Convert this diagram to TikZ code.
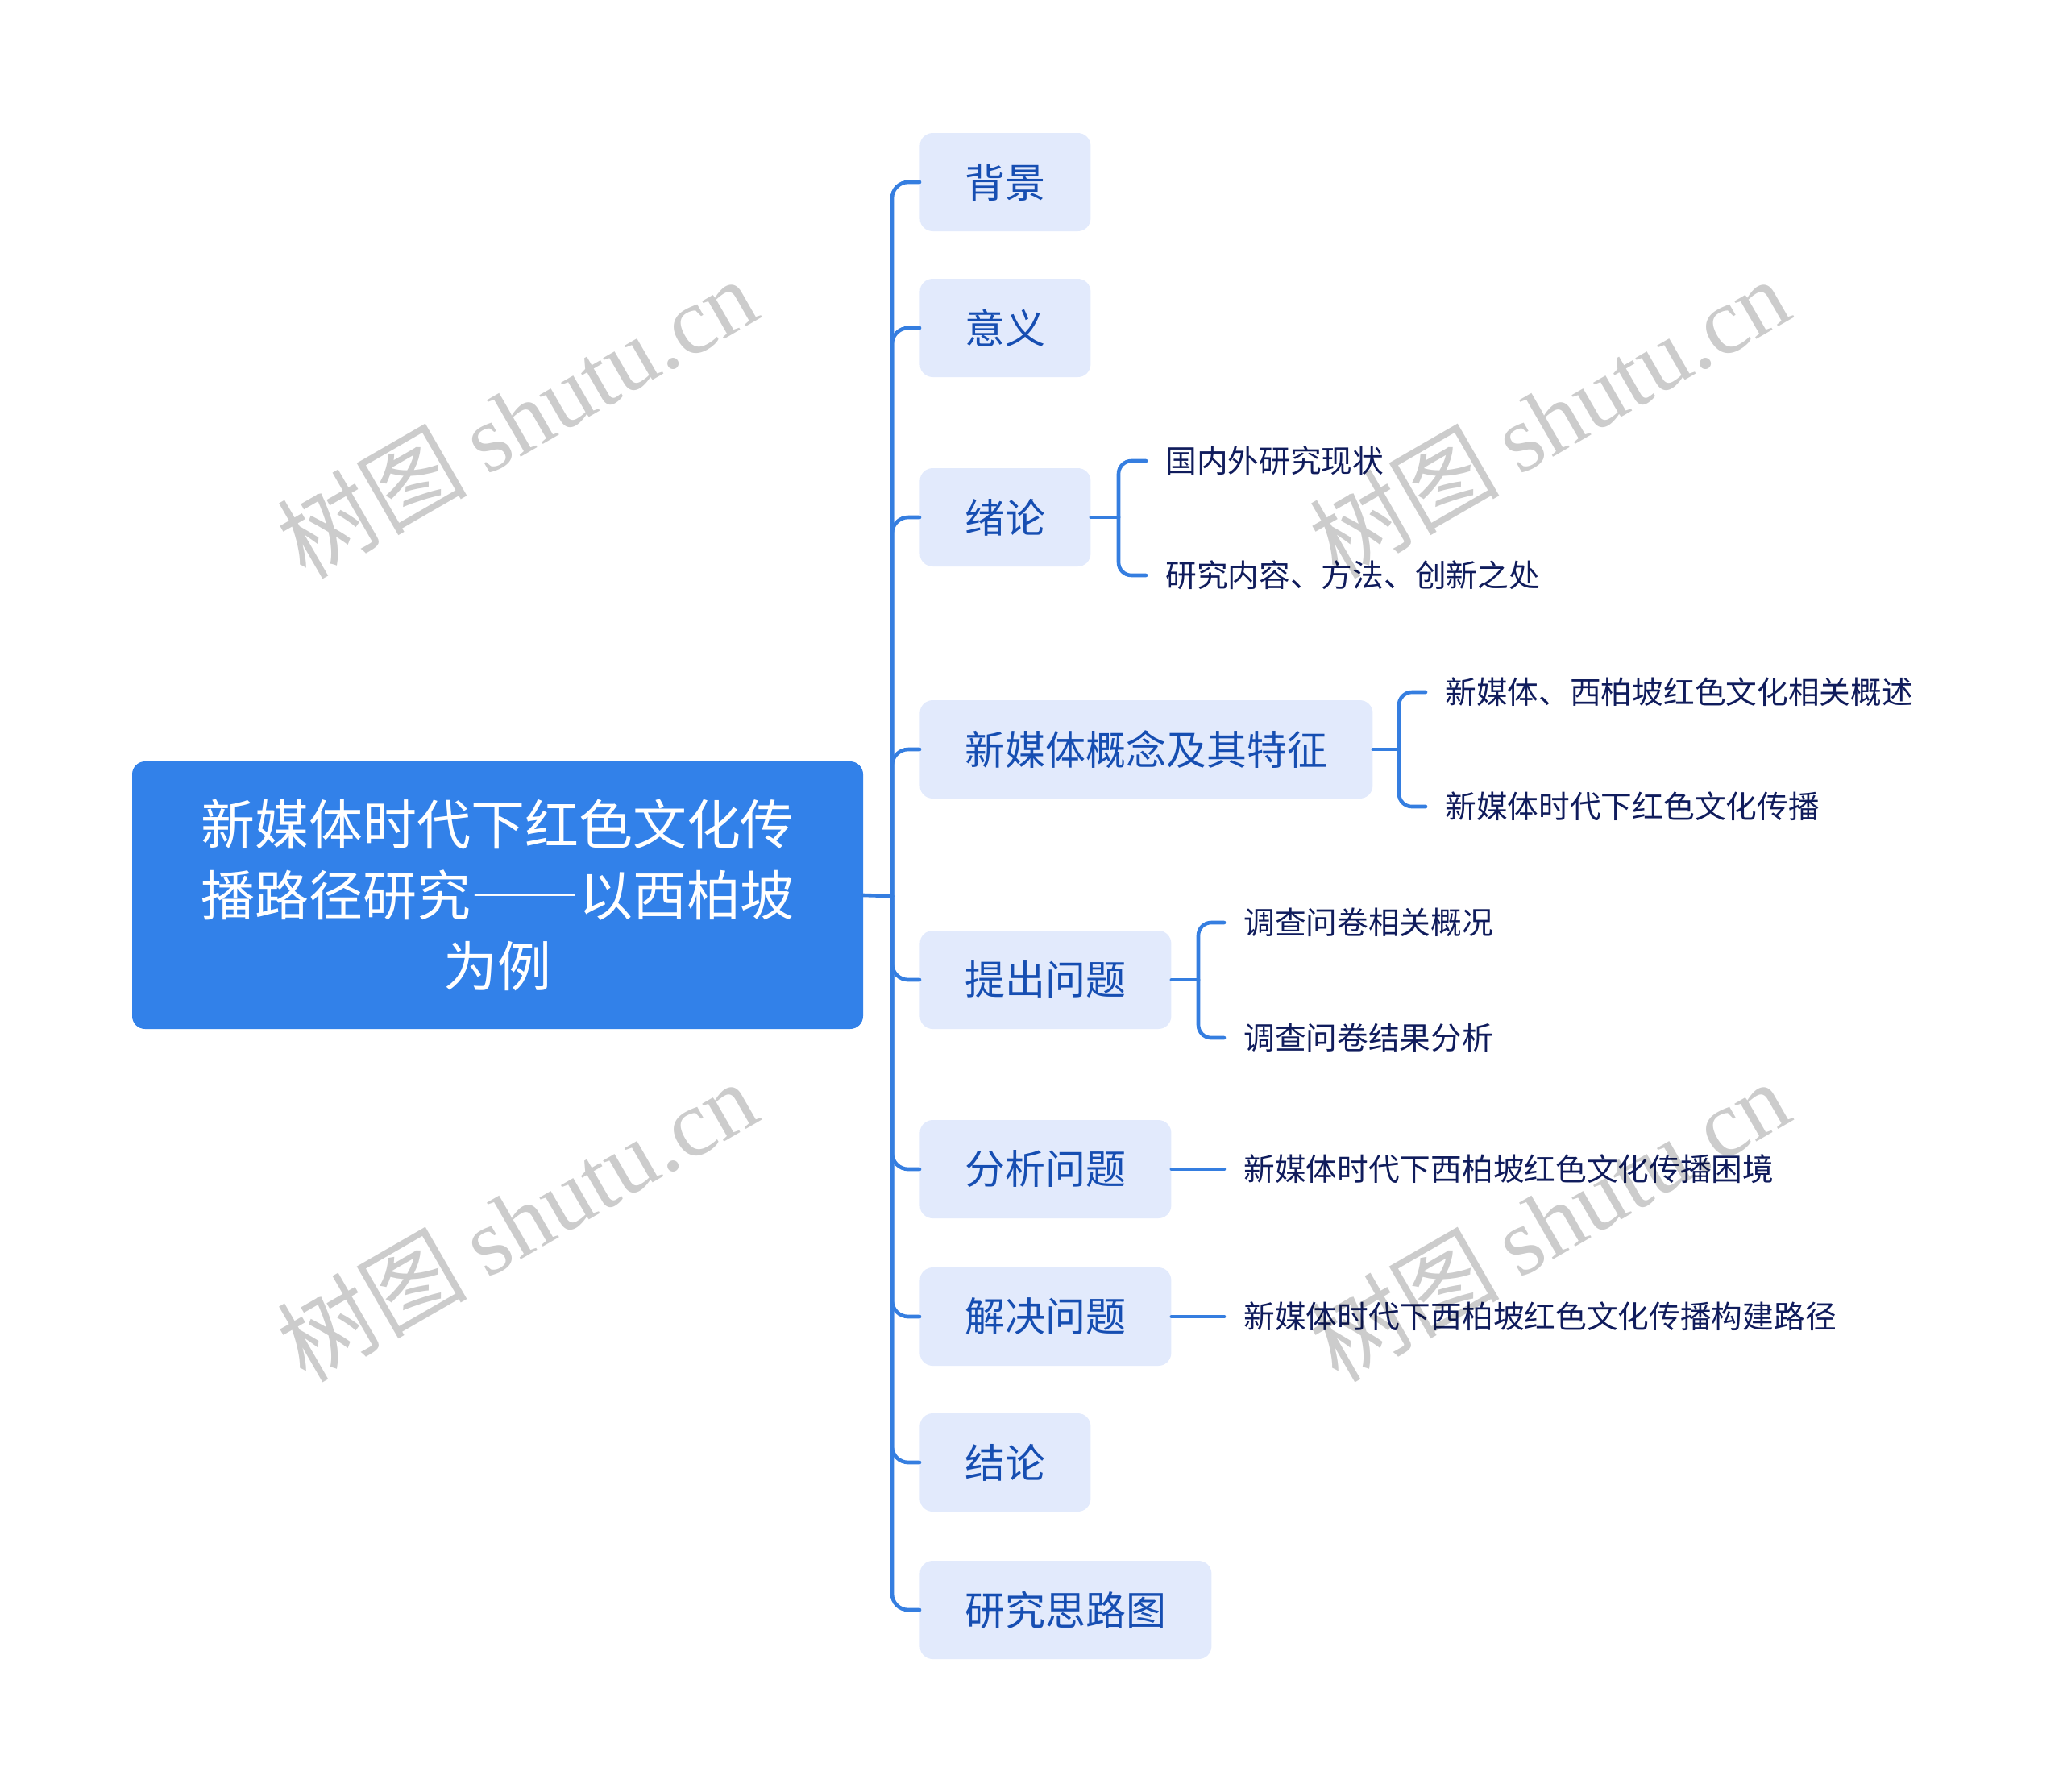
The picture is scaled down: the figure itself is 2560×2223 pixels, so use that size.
\documentclass[tikz,border=0pt]{standalone}
\usepackage{fontspec}
\newfontfamily\cjk{Noto Sans CJK SC}
\newfontfamily\cjkfw[CharacterWidth=Full]{Noto Sans CJK SC}
\newfontfamily\wmlatin{Liberation Serif}
\definecolor{linec}{RGB}{53,126,224}
\definecolor{rootc}{RGB}{50,129,233}
\definecolor{boxc}{RGB}{226,234,252}
\definecolor{boxtext}{RGB}{22,78,178}
\definecolor{subtextc}{RGB}{16,28,92}
\begin{document}
\begin{tikzpicture}[x=0.5pt,y=-0.5pt,
  rootbox/.style={fill=rootc, rounded corners=8pt, minimum width=453.5pt, minimum height=166pt,
    align=center, text=white, inner sep=0pt, font=\cjk\fontsize{33.5}{44}\selectfont},
  childbox/.style={fill=boxc, rounded corners=8pt, minimum height=61pt, inner xsep=28pt, inner ysep=0pt,
    text=boxtext, anchor=west, font=\cjk\fontsize{25}{30}\selectfont},
  subtext/.style={text=subtextc, anchor=west, inner xsep=12pt, inner ysep=2pt,
    font=\cjk\fontsize{19.35}{24}\selectfont},
  conn/.style={draw=linec, line width=2.3pt, line cap=round},
  wmark/.style={text=black, text opacity=0.2, font=\fontsize{59}{64}\selectfont, inner sep=0pt}
]
\useasboundingbox (0,0) rectangle (2560,2223);

% root
\node[rootbox] (root) at (617.5,1111) {新媒体时代下红色文化传\\播路径研究{\cjkfw ——}以西柏坡\\为例};

% children
\node[childbox] (c1) at (1141,226) {背景};
\node[childbox] (c2) at (1141,407) {意义};
\node[childbox] (c3) at (1141,642) {绪论};
\node[childbox] (c4) at (1141,930) {新媒体概念及其特征};
\node[childbox] (c5) at (1141,1216) {提出问题};
\node[childbox] (c6) at (1141,1451) {分析问题};
\node[childbox] (c7) at (1141,1634) {解决问题};
\node[childbox] (c8) at (1141,1815) {结论};
\node[childbox] (c9) at (1141,1998) {研究思路图};

% trunk
\coordinate (J) at (1107,1112);
\draw[conn] (root.east) -- (J);
\foreach \c in {c1,c2,c3,c4,c5,c6,c7,c8,c9}
  \draw[conn, rounded corners=10pt] (\c.west) -| (J);

% sub items of 绪论
\node[subtext] (s31) at (1422,572) {国内外研究现状};
\node[subtext] (s32) at (1422,714) {研究内容、方法、创新之处};
\coordinate (j3) at (1388,642);
\draw[conn] (c3.east) -- (j3);
\draw[conn, rounded corners=8pt] (s31.west) -| (j3);
\draw[conn, rounded corners=8pt] (s32.west) -| (j3);

% sub items of 新媒体概念及其特征
\node[subtext] (s41) at (1769,859) {新媒体、西柏坡红色文化相关概述};
\node[subtext] (s42) at (1769,1001) {新媒体时代下红色文化传播};
\coordinate (j4) at (1736,930);
\draw[conn] (c4.east) -- (j4);
\draw[conn, rounded corners=8pt] (s41.west) -| (j4);
\draw[conn, rounded corners=8pt] (s42.west) -| (j4);

% sub items of 提出问题
\node[subtext] (s51) at (1519,1145) {调查问卷相关概况};
\node[subtext] (s52) at (1519,1288) {调查问卷结果分析};
\coordinate (j5) at (1487,1216);
\draw[conn] (c5.east) -- (j5);
\draw[conn, rounded corners=8pt] (s51.west) -| (j5);
\draw[conn, rounded corners=8pt] (s52.west) -| (j5);

% sub items of 分析问题 / 解决问题
\node[subtext] (s61) at (1519,1451) {新媒体时代下西柏坡红色文化传播困境};
\draw[conn] (c6.east) -- (s61.west);
\node[subtext] (s71) at (1519,1634) {新媒体时代下西柏坡红色文化传播构建路径};
\draw[conn] (c7.east) -- (s71.west);

% watermarks
\foreach \p/\n in {{(641,518)}/w1,{(1922,518)}/w2,{(641,1514)}/w3,{(1922,1514)}/w4}
  \node[wmark, rotate=30] (\n) at \p {{\cjk 树图}\hspace{12pt}{\wmlatin shutu.cn}};
\end{tikzpicture}
\end{document}
